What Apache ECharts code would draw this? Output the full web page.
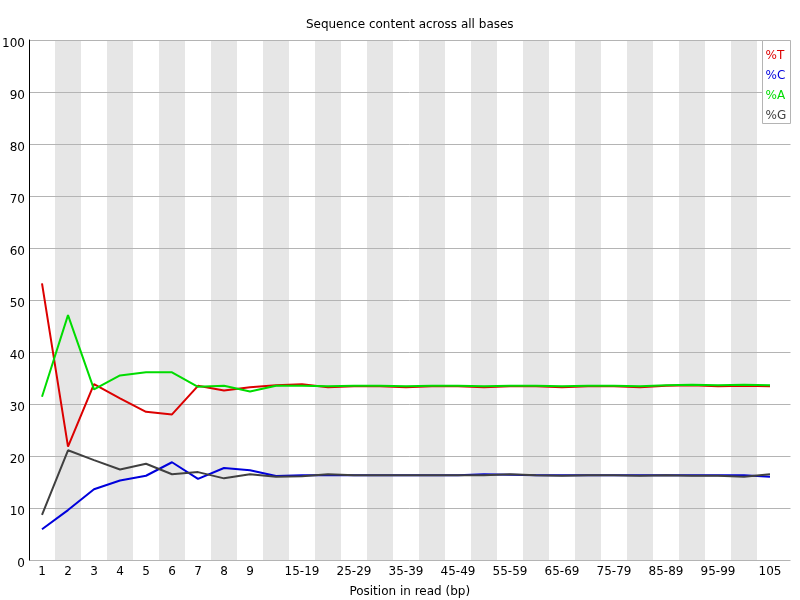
<!DOCTYPE html>
<html>
<head>
<meta charset="utf-8">
<script src="https://cdn.jsdelivr.net/npm/echarts@6/dist/echarts.min.js"></script>
<style>html,body{margin:0;padding:0;background:#fff}#c{width:800px;height:600px}</style>
</head>
<body>
<div id="c"></div>
<script>
var categories = ['1','2','3','4','5','6','7','8','9','10-14','15-19','20-24','25-29','30-34','35-39','40-44','45-49','50-54','55-59','60-64','65-69','70-74','75-79','80-84','85-89','90-94','95-99','100-104','105'];
var seriesNames = ['%T','%C','%A','%G'];
var valuesT = [53.2,21.8,33.8,31.1,28.5,28.0,33.5,32.6,33.2,33.6,33.8,33.2,33.4,33.4,33.2,33.4,33.4,33.2,33.4,33.4,33.2,33.4,33.4,33.2,33.5,33.6,33.4,33.5,33.4];
var valuesC = [5.9,9.6,13.6,15.3,16.2,18.8,15.6,17.7,17.25,16.15,16.3,16.3,16.3,16.3,16.3,16.3,16.3,16.5,16.4,16.3,16.3,16.3,16.3,16.3,16.3,16.3,16.3,16.3,16.0];
var valuesA = [31.4,47.1,32.8,35.5,36.1,36.1,33.3,33.5,32.4,33.5,33.5,33.4,33.5,33.5,33.4,33.5,33.5,33.4,33.5,33.5,33.4,33.5,33.5,33.4,33.6,33.7,33.6,33.7,33.6];
var valuesG = [8.7,21.1,19.2,17.4,18.5,16.5,16.9,15.7,16.5,16.0,16.1,16.5,16.3,16.3,16.3,16.3,16.3,16.3,16.5,16.3,16.2,16.3,16.3,16.2,16.3,16.2,16.2,16.0,16.5];
var yTicks = {min: 0, max: 100, interval: 10};
var colors = ['#dc0000','#0000dc','#00dc00','#404040'];
var FONT = 'DejaVu Sans';

var chart = echarts.init(document.getElementById('c'), null, {renderer: 'canvas'});
var allValues = [valuesT, valuesC, valuesA, valuesG];
var series = allValues.map(function (vals, i) {
  return {
    name: seriesNames[i], type: 'line', xAxisIndex: 0, yAxisIndex: 0,
    data: vals, symbol: 'none', smooth: false, z: 3 + i,
    lineStyle: {color: colors[i], width: 2}, itemStyle: {color: colors[i]},
    emphasis: {disabled: true}, animation: false
  };
});

var legendItems = seriesNames.map(function (n, i) {
  return {type: 'text', x: 765.5, y: 56 + 20 * i, z: 20,
    style: {text: n, fill: colors[i], font: '12px "' + FONT + '"', textAlign: 'left', textVerticalAlign: 'middle'}};
});

chart.setOption({
  animation: false,
  textStyle: {fontFamily: FONT},
  grid: [
    {left: 29, top: 40, width: 754, height: 520, containLabel: false, outerBoundsMode: 'none'},
    {left: 29, top: 40, width: 761.5, height: 520, containLabel: false, outerBoundsMode: 'none'}
  ],
  xAxis: [
    {gridIndex: 0, type: 'category', data: categories, boundaryGap: true,
      axisLine: {show: false}, axisTick: {show: false},
      axisLabel: {interval: function (idx) { return idx < 9 || idx % 2 === 0; }, fontSize: 12, color: '#000', margin: 6, fontFamily: FONT},
      splitLine: {show: false},
      splitArea: {show: true, interval: 0, areaStyle: {color: ['#ffffff', '#e6e6e6']}}, z: 0},
    {gridIndex: 1, type: 'value', min: 0, max: 1,
      axisLine: {show: false}, axisTick: {show: false}, axisLabel: {show: false}, splitLine: {show: false},
      name: 'Position in read (bp)', nameLocation: 'middle', nameGap: 26,
      nameTextStyle: {fontSize: 12, color: '#000', fontFamily: FONT}}
  ],
  yAxis: [
    {gridIndex: 0, type: 'value', min: yTicks.min, max: yTicks.max, interval: yTicks.interval, show: false},
    {gridIndex: 1, type: 'value', min: yTicks.min, max: yTicks.max, interval: yTicks.interval, z: 2,
      axisLine: {show: true, lineStyle: {color: '#000', width: 1}}, axisTick: {show: false},
      axisLabel: {fontSize: 12, color: '#000', margin: 4, fontFamily: FONT,
        formatter: '{v|{value}}', rich: {v: {fontSize: 12, color: '#000', fontFamily: FONT, padding: [7, 0, 0, 0]}}},
      splitLine: {show: true, lineStyle: {color: '#b4b4b4', width: 1}}}
  ],
  series: series,
  graphic: [
    {type: 'text', x: 409.75, y: 25, z: 20,
      style: {text: 'Sequence content across all bases', fill: '#000', font: '12px "' + FONT + '"', textAlign: 'center', textVerticalAlign: 'middle'}},
    {type: 'rect', z: 19, shape: {x: 762.5, y: 40.5, width: 28, height: 83},
      style: {fill: '#ffffff', stroke: '#b4b4b4', lineWidth: 1}}
  ].concat(legendItems)
});
</script>
</body>
</html>
